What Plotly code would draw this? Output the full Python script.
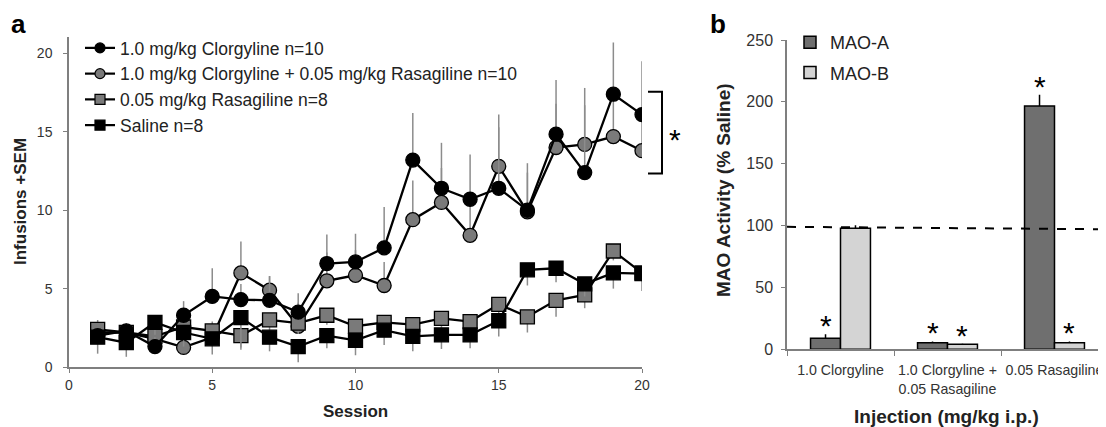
import plotly.graph_objects as go

# ---------------- Panel a data ----------------
sessions = list(range(1, 21))
clor = [2.0, 2.3, 1.3, 3.3, 4.5, 4.3, 4.25, 3.5, 6.6, 6.7, 7.6, 13.2, 11.4, 10.7, 11.4, 10.0, 14.85, 12.4, 17.4, 16.1]
clor_err = [0.4, 0.4, 0.6, 0.9, 1.8, 1.0, 1.55, 1.2, 1.85, 1.8, 2.6, 3.0, 2.9, 2.85, 4.7, 3.0, 3.45, 5.4, 3.3, 3.4]
clor_ras = [2.2, 2.2, 1.8, 1.25, 1.9, 6.0, 4.9, 2.6, 5.5, 5.85, 5.2, 9.4, 10.5, 8.4, 12.8, 9.9, 14.0, 14.2, 14.7, 13.8]
clor_ras_err = [0.8, 0.6, 0.7, 0.8, 1.0, 2.0, 0.9, 1.5, 1.8, 1.6, 1.5, 2.5, 2.2, 2.0, 2.5, 2.5, 2.8, 2.5, 3.0, 2.5]
ras = [2.4, 2.2, 1.95, 2.55, 2.3, 2.0, 3.0, 2.8, 3.3, 2.6, 2.85, 2.7, 3.1, 2.9, 4.0, 3.2, 4.25, 4.6, 7.4, 6.0]
ras_err = [0.7, 0.6, 0.6, 0.7, 0.8, 0.9, 0.8, 0.7, 0.6, 0.6, 0.6, 0.6, 0.7, 0.6, 0.8, 1.0, 1.05, 0.85, 0.6, 0.6]
saline = [1.9, 1.55, 2.85, 2.2, 1.8, 3.15, 1.9, 1.3, 2.0, 1.7, 2.35, 1.95, 2.05, 2.05, 2.95, 6.2, 6.3, 5.3, 6.0, 5.95]
saline_err = [1.05, 0.9, 0.8, 0.9, 1.0, 1.9, 0.9, 1.0, 0.8, 0.95, 0.95, 0.95, 0.9, 0.85, 1.0, 1.0, 0.9, 0.8, 1.0, 1.1]
zeros = [0] * 20

names_a = ["1.0 mg/kg Clorgyline n=10",
           "1.0 mg/kg Clorgyline + 0.05 mg/kg Rasagiline n=10",
           "0.05 mg/kg Rasagiline n=8",
           "Saline n=8"]

# ---------------- Panel b data ----------------
injections = ["1.0 Clorgyline", "1.0 Clorgyline +<br>0.05 Rasagiline", "0.05 Rasagiline"]
mao_a = [8.9, 5.3, 196.7]
mao_a_err = [3.2, 1.0, 9.0]
mao_b = [97.8, 4.0, 5.3]
mao_b_err = [2.5, 0.5, 1.0]
sig_a = [True, True, True]
sig_b = [False, True, True]

FONT = "Liberation Sans, Arial, sans-serif"
AX = "#7f7f7f"
TXT = "#333333"
GRAYM = "#7a7a7a"

W, H = 1106, 427
OFF = 8  # page body margin


def fx(px):
    return (px - OFF) / W


def fy(py):
    return 1 - (py - OFF) / H


fig = go.Figure()


def series(name, y, err, symbol, fill, up, rank):
    eb = dict(type="data", symmetric=False, color="#8c8c8c", thickness=1.5, width=0)
    if up:
        eb.update(array=err, arrayminus=zeros)
    else:
        eb.update(array=zeros, arrayminus=err)
    fig.add_trace(go.Scatter(
        x=sessions, y=y, name=name, mode="lines+markers",
        line=dict(color="black", width=2.3),
        marker=dict(symbol=symbol, size=14, color=fill, line=dict(color="black", width=1.3)),
        error_y=eb, showlegend=False, legendgroup=name, xaxis="x", yaxis="y",
    ))
    return (name, symbol, fill, rank)


legend_specs = [
    series(names_a[1], clor_ras, clor_ras_err, "circle", GRAYM, True, 2),
    series(names_a[2], ras, ras_err, "square", GRAYM, False, 3),
    series(names_a[0], clor, clor_err, "circle", "black", True, 1),
    series(names_a[3], saline, saline_err, "square", "black", False, 4),
]
# legend entries (smaller symbols, as in the original legend)
for name, symbol, fill, rank in legend_specs:
    fig.add_trace(go.Scatter(
        x=[None], y=[None], name=name, mode="lines+markers",
        line=dict(color="black", width=2.2),
        marker=dict(symbol=symbol, size=10, color=fill, line=dict(color="black", width=1.2)),
        legendrank=rank, legendgroup=name, xaxis="x", yaxis="y", legend="legend",
    ))

fig.add_trace(go.Bar(x=injections, y=mao_a, name="MAO-A", legendgroup="A",
                     marker=dict(color="#6f6f6f", line=dict(color="black", width=1.5)),
                     error_y=dict(type="data", symmetric=False, array=mao_a_err, arrayminus=[0]*3, color="black", thickness=1.5, width=0),
                     xaxis="x2", yaxis="y2", legend="legend2"))
fig.add_trace(go.Bar(x=injections, y=mao_b, name="MAO-B", legendgroup="B",
                     marker=dict(color="#d4d4d4", line=dict(color="black", width=1.5)),
                     error_y=dict(type="data", symmetric=False, array=mao_b_err, arrayminus=[0]*3, color="black", thickness=1.5, width=0),
                     xaxis="x2", yaxis="y2", legend="legend2"))

axcommon = dict(showline=True, linecolor=AX, linewidth=1.5, ticks="outside", ticklen=4, tickcolor=AX,
                showgrid=False, zeroline=False, automargin=False, tickangle=0,
                tickfont=dict(family=FONT, size=14, color=TXT))

fig.update_layout(
    width=W, height=H, margin=dict(l=0, r=0, t=0, b=0, autoexpand=False),
    paper_bgcolor="white", plot_bgcolor="white",
    font=dict(family=FONT, color=TXT),
    barmode="group", bargap=0.44, bargroupgap=0,
    xaxis=dict(domain=[fx(69), fx(642)], range=[0, 20], tickvals=[0, 5, 10, 15, 20], anchor="y", **axcommon),
    yaxis=dict(domain=[fy(367), fy(37)], range=[0, 21.05], tickvals=[0, 5, 10, 15, 20], anchor="x",
               ticklabelstandoff=8, **axcommon),
    xaxis2=dict(domain=[fx(787), fx(1108)], range=[-0.5, 2.5], type="category", tickson="boundaries", anchor="y2",
                ticklabelstandoff=7,
                **{**axcommon, "tickfont": dict(family=FONT, size=14.2, color=TXT), "ticklen": 5}),
    yaxis2=dict(domain=[fy(349.3), fy(40)], range=[0, 250], dtick=50, anchor="x2", ticklabelstandoff=5,
                **{**axcommon, "tickfont": dict(family=FONT, size=16, color=TXT)}),
    legend=dict(x=fx(80), y=fy(30), xanchor="left", yanchor="top", bgcolor="rgba(0,0,0,0)",
                font=dict(family=FONT, size=17.5, color="#222"), traceorder="grouped", tracegroupgap=0),
    legend2=dict(x=fx(790), y=fy(24), xanchor="left", yanchor="top", bgcolor="rgba(0,0,0,0)",
                 font=dict(family=FONT, size=18, color="#222"), tracegroupgap=4, traceorder="grouped"),
)

# dashed 100% line
fig.add_shape(type="line", xref="paper", yref="y2", x0=fx(787), x1=fx(1108), y0=99, y1=97,
              line=dict(color="black", width=2, dash="dash"))

# bracket for significance in panel a
bx0, bx1 = fx(648), fx(662)
fig.add_shape(type="path", xref="paper", yref="y",
              path=f"M {bx0} 17.55 L {bx1} 17.55 L {bx1} 12.35 L {bx0} 12.35",
              line=dict(color="black", width=2))

STAR = dict(family=FONT, size=30, color="black")
ann = []
ann.append(dict(text="*", xref="paper", yref="y", x=fx(675), y=15.1, showarrow=False,
                xanchor="center", yanchor="middle", font=STAR, yshift=-9))
# stars in panel b
off = 0.14
pad = 7
for i in range(3):
    if sig_a[i]:
        ann.append(dict(text="*", xref="x2", yref="y2", x=i - off, y=mao_a[i] + mao_a_err[i] + pad, showarrow=False,
                        xanchor="center", yanchor="middle", font=STAR))
    if sig_b[i]:
        ann.append(dict(text="*", xref="x2", yref="y2", x=i + off, y=mao_b[i] + mao_b_err[i] + pad, showarrow=False,
                        xanchor="center", yanchor="middle", font=STAR))

# panel letters and axis titles
C = dict(showarrow=False, xanchor="center", yanchor="middle", xref="paper", yref="paper")
ann += [
    dict(text="<b>a</b>", x=fx(18), y=fy(24), font=dict(family=FONT, size=26, color="black"), **C),
    dict(text="<b>b</b>", x=fx(718), y=fy(24), font=dict(family=FONT, size=26, color="black"), **C),
    dict(text="<b>Session</b>", x=fx(355), y=fy(411), font=dict(family=FONT, size=17, color="#222"), **C),
    dict(text="<b>Infusions +SEM</b>", x=fx(20), y=fy(202), textangle=-90,
         font=dict(family=FONT, size=17, color="#222"), **C),
    dict(text="<b>Injection (mg/kg i.p.)</b>", x=fx(946), y=fy(416),
         font=dict(family=FONT, size=19, color="#222"), **C),
    dict(text="<b>MAO Activity (% Saline)</b>", x=fx(723), y=fy(190), textangle=-90,
         font=dict(family=FONT, size=19, color="#222"), **C),
]
fig.update_layout(annotations=ann)

fig.write_html("out.html")
